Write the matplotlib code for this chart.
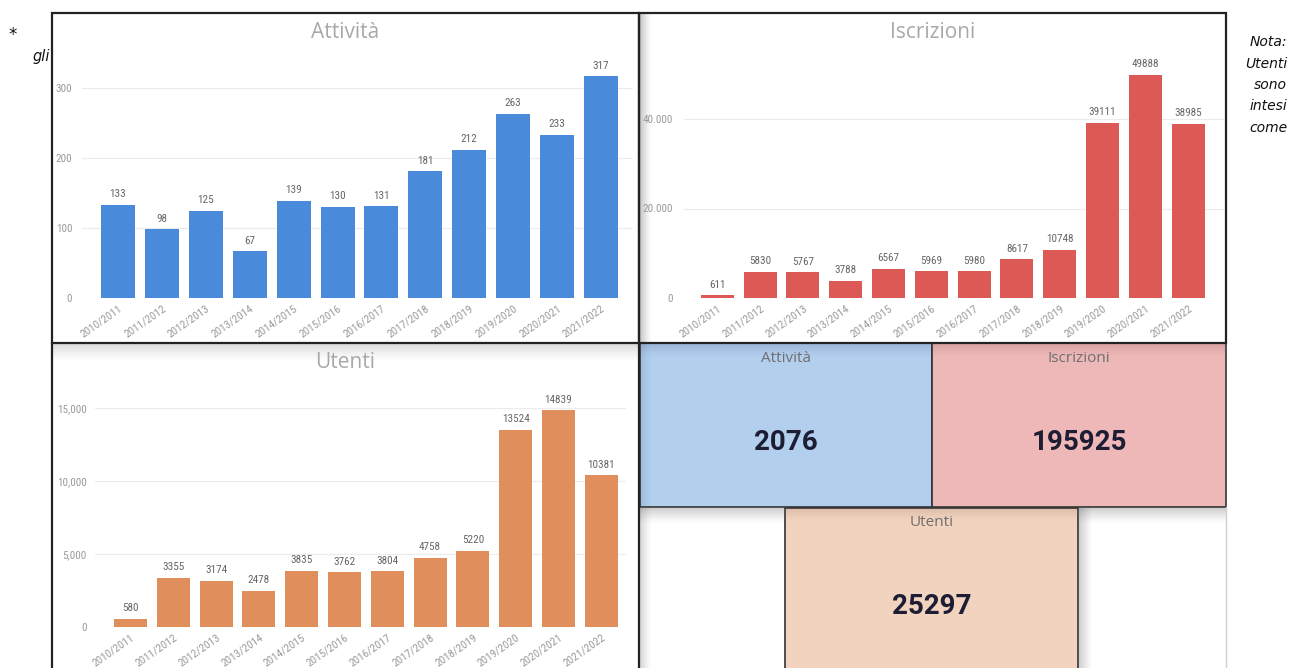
import matplotlib
matplotlib.use('Agg')
import matplotlib.pyplot as plt
import numpy as np
from matplotlib import font_manager as fm
from matplotlib.patches import Rectangle

# ---------------- data ----------------
seasons = ['2010/2011', '2011/2012', '2012/2013', '2013/2014', '2014/2015', '2015/2016',
           '2016/2017', '2017/2018', '2018/2019', '2019/2020', '2020/2021', '2021/2022']
attivita = [133, 98, 125, 67, 139, 130, 131, 181, 212, 263, 233, 317]
iscrizioni = [611, 5830, 5767, 3788, 6567, 5969, 5980, 8617, 10748, 39111, 49888, 38985]
utenti = [580, 3355, 3174, 2478, 3835, 3762, 3804, 4758, 5220, 13524, 14839, 10381]

attivita_ticks = [0, 100, 200, 300]
attivita_ticklabels = ['0', '100', '200', '300']
iscrizioni_ticks = [0, 20000, 40000]
iscrizioni_ticklabels = ['0', '20.000', '40.000']
utenti_ticks = [0, 5000, 10000, 15000]
utenti_ticklabels = ['0', '5,000', '10,000', '15,000']

kpi_titles = ['Attività', 'Iscrizioni', 'Utenti']
kpi_values = ['2076', '195925', '25297']

note_left = ['*', 'gli']
note_right = ['Nota:', 'Utenti', 'sono', 'intesi', 'come']

# ---------------- fonts ----------------
avail = {f.name for f in fm.fontManager.ttflist}
def pick(*names):
    for n in names:
        if n in avail:
            return n
    return 'DejaVu Sans'

NUM = pick('Roboto Condensed', 'Liberation Sans Narrow', 'Roboto', 'DejaVu Sans')
TITLE = pick('Open Sans', 'Noto Sans', 'Lato', 'DejaVu Sans')
KPI = pick('Roboto', 'DejaVu Sans')

W, H, DPI = 1290, 668, 100
fig = plt.figure(figsize=(W / DPI, H / DPI), dpi=DPI)
fig.patch.set_facecolor('white')

bg = fig.add_axes([0, 0, 1, 1], zorder=0)
bg.axis('off')


def grad(x0, x1, y0, y1, direction, amax=0.3, color=(0.35, 0.35, 0.35), z=2):
    n = 64
    a = np.linspace(amax, 0, n) ** 1.3 / (amax ** 0.3) if amax > 0 else np.zeros(n)
    if direction in ('down', 'up'):
        arr = np.zeros((n, 1, 4))
        arr[..., :3] = color
        arr[:, 0, 3] = a if direction == 'down' else a[::-1]
    else:
        arr = np.zeros((1, n, 4))
        arr[..., :3] = color
        arr[0, :, 3] = a if direction == 'right' else a[::-1]
    bg.imshow(arr, extent=(x0, x1, y1, y0), aspect='auto', zorder=z,
              interpolation='bilinear')


def rect(x0, y0, x1, y1, fc='none', ec='#222222', lw=1.5, z=3):
    bg.add_patch(Rectangle((x0, y0), x1 - x0, y1 - y0, facecolor=fc,
                           edgecolor=ec, linewidth=lw, zorder=z))


# ---------------- KPI boxes ----------------
rect(640, 343, 932, 507, fc='#b3cfee', ec='#333333', lw=1.2, z=1)
rect(932, 343, 1226, 507, fc='#eeb8b8', ec='#333333', lw=1.2, z=1)
rect(785, 508, 1078, 680, fc='#f1d3bf', ec='#333333', lw=1.2, z=1)

# shadows
grad(640, 652, 14, 343, 'right', amax=0.35)
grad(53, 638, 344, 362, 'down', amax=0.22)
grad(641, 931, 344, 358, 'down', amax=0.18, color=(0.2, 0.3, 0.5))
grad(933, 1225, 344, 358, 'down', amax=0.18, color=(0.5, 0.25, 0.25))
grad(641, 652, 344, 506, 'right', amax=0.15, color=(0.2, 0.3, 0.5))
grad(640, 785, 508, 524, 'down', amax=0.3)
grad(1078, 1226, 508, 524, 'down', amax=0.3)
grad(640, 652, 508, 668, 'right', amax=0.25)
grad(1079, 1093, 508, 668, 'right', amax=0.3)
grad(786, 1077, 509, 522, 'down', amax=0.15, color=(0.45, 0.3, 0.2))
bg.plot([1226, 1226], [507, 668], color='#d0d0d0', lw=1, zorder=3)

# panel borders
rect(52, 13, 639, 343, lw=1.6, z=4)
rect(639, 13, 1226, 343, lw=1.6, z=4)
bg.plot([52, 52], [343, 668], color='#222222', lw=1.6, zorder=4)
bg.plot([639, 639], [343, 668], color='#222222', lw=1.6, zorder=4)

# chart titles
title_kw = dict(fontsize=15, color='#a8a8a8', family=TITLE, ha='center', va='center', zorder=5)
bg.text(345.5, 32, 'Attività', **title_kw)
bg.text(932.5, 32, 'Iscrizioni', **title_kw)
bg.text(345.5, 362, 'Utenti', **title_kw)

# KPI texts
kt = dict(fontsize=11, color='#6e6e6e', family=TITLE, ha='center', va='center', zorder=5)
kv = dict(fontsize=20, color='#1d1e33', family=KPI, fontweight='bold', ha='center', va='center', zorder=5)
kpi_pos = [(786, 358, 442), (1079, 358, 442), (931.5, 523, 607)]
for (cx, ty, vy), t, v in zip(kpi_pos, kpi_titles, kpi_values):
    bg.text(cx, ty, t, **kt)
    bg.text(cx, vy, v, **kv)

# side notes
bg.text(13, 35, note_left[0], fontsize=12, family='DejaVu Sans', color='#111111',
        ha='center', va='center', zorder=5)
bg.text(50, 57, note_left[1], fontsize=10.5, family='DejaVu Sans', style='italic',
        color='#111111', ha='right', va='center', zorder=5)
for i, line in enumerate(note_right):
    bg.text(1287, 42 + 21.5 * i, line, fontsize=10, family='DejaVu Sans', style='italic',
            color='#111111', ha='right', va='center', zorder=5)

bg.set_xlim(0, W)
bg.set_ylim(H, 0)


# ---------------- bar charts ----------------
def bar_chart(px, values, color, ticks, ticklabels, xlim, ylim, bw, ypad):
    l, r, t, b = px
    ax = fig.add_axes([l / W, 1 - b / H, (r - l) / W, (b - t) / H], zorder=2)
    ax.patch.set_alpha(0)
    x = np.arange(len(values))
    ax.bar(x, values, width=bw, color=color, zorder=3)
    ax.set_xlim(*xlim)
    ax.set_ylim(*ylim)
    for s in ax.spines.values():
        s.set_visible(False)
    ax.set_yticks(ticks)
    ax.set_yticklabels(ticklabels)
    ax.set_xticks(x)
    ax.set_xticklabels(seasons, rotation=35, ha='right', rotation_mode='anchor')
    ax.tick_params(axis='both', length=0, labelsize=8, labelcolor='#9a9a9a')
    ax.tick_params(axis='y', pad=ypad)
    ax.tick_params(axis='x', pad=4)
    for lab in ax.get_xticklabels() + ax.get_yticklabels():
        lab.set_family(NUM)
    ax.yaxis.grid(True, color='#ececec', lw=0.8, zorder=0)
    ax.set_axisbelow(True)
    for xi, v in zip(x, values):
        ax.annotate(str(v), (xi, v), xytext=(0, 4), textcoords='offset points',
                    ha='center', va='bottom', fontsize=8, color='#666666', family=NUM)
    return ax


# Attività: y0 at px 298, 300 at px 88
bar_chart((82, 633, 56, 298), attivita, '#4a8ada', attivita_ticks, attivita_ticklabels,
          (-0.82, 11.73), (0, 242 / (210 / 300)), 0.775, 7)
# Iscrizioni: y0 at px 298, 40000 at px 119
bar_chart((684, 1224, 56, 298), iscrizioni, '#dd5956', iscrizioni_ticks, iscrizioni_ticklabels,
          (-0.78, 11.84), (0, 242 / (179 / 40000)), 0.77, 8)
# Utenti: y0 at px 627, 15000 at px 408
bar_chart((95, 626, 385, 627), utenti, '#e08e5c', utenti_ticks, utenti_ticklabels,
          (-0.83, 11.58), (0, 242 / (219 / 15000)), 0.77, 6)

fig.savefig('out.png', dpi=DPI, facecolor='white')
